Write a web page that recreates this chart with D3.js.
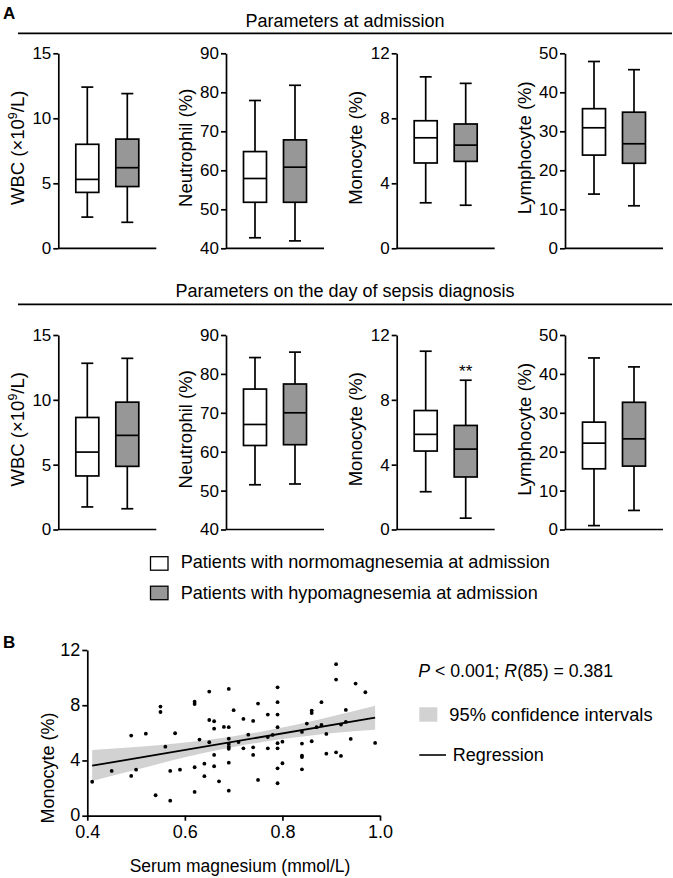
<!DOCTYPE html>
<html><head><meta charset="utf-8">
<script src="https://cdn.jsdelivr.net/npm/d3@7"></script>
<style>
body{margin:0;background:#fff;}
svg{display:block;font-family:"Liberation Sans",Arial,Helvetica,sans-serif;}
</style></head>
<body>
<svg id="c" width="673" height="878"></svg>
<script>
// ---------- Data ----------
const groups = ["Normomagnesemia", "Hypomagnesemia"];
const legendLabels = ["Patients with normomagnesemia at admission", "Patients with hypomagnesemia at admission"];
const panelLabels = ["WBC", "Neutrophil (%)", "Monocyte (%)", "Lymphocyte (%)"];
const panelDomains = [[0, 15], [40, 90], [0, 12], [0, 50]];
const panelTicks = [[0, 5, 10, 15], [40, 50, 60, 70, 80, 90], [0, 4, 8, 12], [0, 10, 20, 30, 40, 50]];
const rowTitles = ["Parameters at admission", "Parameters on the day of sepsis diagnosis"];
// box stats: [min, q1, median, q3, max] for normo, hypo
const admissionStats = [
  [[2.4, 4.3, 5.3, 8.0, 12.4], [2.0, 4.75, 6.2, 8.4, 11.9]],
  [[42.7, 51.8, 57.9, 64.8, 77.9], [41.9, 51.8, 60.8, 67.8, 81.8]],
  [[2.8, 5.25, 6.8, 7.85, 10.55], [2.65, 5.35, 6.35, 7.65, 10.15]],
  [[13.9, 23.9, 30.9, 35.8, 47.9], [10.9, 21.8, 26.8, 34.9, 45.8]]
];
const sepsisStats = [
  [[1.74, 4.13, 5.97, 8.64, 12.82], [1.6, 4.87, 7.26, 9.82, 13.2]],
  [[51.5, 61.6, 67.0, 76.1, 84.2], [51.7, 61.8, 70.0, 77.4, 85.6]],
  [[2.33, 4.84, 5.87, 7.34, 11.0], [0.7, 3.24, 4.96, 6.42, 9.21]],
  [[1.0, 15.6, 22.2, 27.6, 44.1], [4.9, 16.3, 23.3, 32.7, 41.8]]
];
const sepsisSignif = [null, null, [null, "**"], null];

// Panel B scatter
const magnesium = [0.41,0.45,0.49,0.49,0.50,0.52,0.55,0.55,0.54,0.56,0.57,0.57,0.58,0.59,0.62,0.62,0.62,0.62,0.63,0.64,0.64,0.65,0.65,0.65,0.66,0.66,0.66,0.66,0.67,0.68,0.69,0.69,0.69,0.69,0.69,0.69,0.69,0.69,0.70,0.71,0.72,0.72,0.73,0.74,0.74,0.74,0.75,0.75,0.77,0.77,0.77,0.78,0.79,0.79,0.79,0.79,0.79,0.79,0.79,0.79,0.80,0.80,0.84,0.84,0.84,0.84,0.84,0.85,0.86,0.86,0.86,0.87,0.88,0.88,0.89,0.89,0.91,0.91,0.91,0.92,0.92,0.93,0.93,0.94,0.95,0.97,0.99];
const monocyte = [2.46,3.24,5.80,2.88,3.33,5.94,7.90,7.51,1.48,5.00,3.24,1.09,5.97,3.33,8.26,8.09,3.51,1.72,5.51,3.77,2.86,8.99,6.93,5.32,6.84,6.30,4.40,3.58,2.49,6.43,9.18,6.41,5.58,5.20,4.99,4.85,3.84,1.81,7.64,5.33,7.01,4.88,5.87,6.86,4.95,4.40,8.12,2.59,7.32,5.70,4.88,5.85,9.30,8.22,7.32,6.41,5.25,4.88,3.43,2.35,5.36,3.80,6.07,5.22,4.35,4.25,3.36,6.67,7.61,7.43,5.39,6.41,8.22,6.57,5.92,4.49,10.97,9.86,4.59,4.33,6.60,7.66,6.80,5.56,9.57,8.94,5.27];
const regX = [0.41, 0.99];
const regY = [3.62, 7.10];
const ciX = [0.41, 0.5, 0.6, 0.7, 0.8, 0.9, 0.99];
const ciUpper = [4.76, 4.98, 5.30, 5.76, 6.38, 7.18, 7.97];
const ciLower = [2.52, 3.32, 4.24, 4.98, 5.55, 5.98, 6.22];
const scatterXTicks = [0.4, 0.6, 0.8, 1.0];
const scatterYTicks = [0, 4, 8, 12];
const statText = "P < 0.001; R(85) = 0.381";

// ---------- Drawing ----------
const svg = d3.select("#c");
const SW = 1.7;
const FS = 18;
const GRAY = "#979797";

svg.append("text").attr("x", 3).attr("y", 18.5).attr("font-size", 17).attr("font-weight", "bold").text("A");
svg.append("text").attr("x", 3).attr("y", 647.5).attr("font-size", 17).attr("font-weight", "bold").text("B");

const axisX = [58.3, 226, 396.7, 565];
const axisW = 98;
const rows = [
  {title: rowTitles[0], titleY: 26.5, lineY: 33.3, y0: 248.3, y1: 53.3, stats: admissionStats, sig: [null,null,null,null]},
  {title: rowTitles[1], titleY: 296.7, lineY: 304.3, y0: 529.5, y1: 335, stats: sepsisStats, sig: sepsisSignif}
];

rows.forEach(row => {
  svg.append("text").attr("x", 345).attr("y", row.titleY).attr("text-anchor", "middle")
    .attr("font-size", FS).text(row.title);
  svg.append("line").attr("x1", 18).attr("x2", 672).attr("y1", row.lineY).attr("y2", row.lineY)
    .attr("stroke", "#000").attr("stroke-width", SW);

  panelLabels.forEach((lab, i) => {
    const g = svg.append("g").attr("transform", `translate(${axisX[i]},0)`);
    const y = d3.scaleLinear().domain(panelDomains[i]).range([row.y0, row.y1]);
    const x = d3.scalePoint().domain(groups).range([29, 69]);
    const ax = g.append("g").call(d3.axisLeft(y).tickValues(panelTicks[i]).tickSize(5).tickSizeOuter(0).tickPadding(2));
    ax.selectAll("path,line").attr("stroke", "#000").attr("stroke-width", SW);
    ax.selectAll("text").attr("font-size", 17).attr("font-family", "Liberation Sans, Arial, sans-serif").attr("fill", "#000");
    g.append("line").attr("x1", 0).attr("x2", axisW).attr("y1", row.y0).attr("y2", row.y0)
      .attr("stroke", "#000").attr("stroke-width", SW);

    // y label
    const cy = (row.y0 + row.y1) / 2 - 3;
    const t = g.append("text").attr("transform", `translate(-34.5,${cy}) rotate(-90)`)
      .attr("text-anchor", "middle").attr("font-size", 18.5);
    if (i === 0) {
      t.append("tspan").text("WBC (×10");
      t.append("tspan").attr("font-size", 12.5).attr("dy", -7).text("9");
      t.append("tspan").attr("dy", 7).text("/L)");
    } else {
      t.text(lab);
    }

    const bw = 23, cap = 12;
    row.stats[i].forEach((s, j) => {
      const cx = x(groups[j]);
      const bg = g.append("g");
      bg.append("line").attr("x1", cx).attr("x2", cx).attr("y1", y(s[0])).attr("y2", y(s[4]))
        .attr("stroke", "#000").attr("stroke-width", SW);
      [s[0], s[4]].forEach(v => bg.append("line").attr("x1", cx - cap/2).attr("x2", cx + cap/2)
        .attr("y1", y(v)).attr("y2", y(v)).attr("stroke", "#000").attr("stroke-width", SW));
      bg.append("rect").attr("x", cx - bw/2).attr("width", bw).attr("y", y(s[3])).attr("height", y(s[1]) - y(s[3]))
        .attr("fill", j === 0 ? "#fff" : GRAY).attr("stroke", "#000").attr("stroke-width", SW);
      bg.append("line").attr("x1", cx - bw/2).attr("x2", cx + bw/2).attr("y1", y(s[2])).attr("y2", y(s[2]))
        .attr("stroke", "#000").attr("stroke-width", SW);
      const sg = row.sig[i];
      if (sg && sg[j]) {
        g.append("text").attr("x", cx).attr("y", y(s[4]) - 3).attr("text-anchor", "middle")
          .attr("font-size", 17).text(sg[j]);
      }
    });
  });
});

// Legend A
legendLabels.forEach((l, j) => {
  const yy = [556.7, 586.2][j];
  svg.append("rect").attr("x", 150.5).attr("y", yy).attr("width", 17.5).attr("height", 13.5)
    .attr("fill", j === 0 ? "#fff" : GRAY).attr("stroke", "#000").attr("stroke-width", 1.3);
  svg.append("text").attr("x", 180.7).attr("y", [568.3, 599.3][j]).attr("font-size", 18.1).text(l);
});

// Panel B
const sx = d3.scaleLinear().domain([0.4, 1.0]).range([87.3, 380]);
const sy = d3.scaleLinear().domain([0, 12]).range([815.7, 650]);
const B = svg.append("g");
const area = d3.area().x((d, i) => sx(ciX[i])).y0((d, i) => sy(ciLower[i])).y1((d, i) => sy(ciUpper[i])).curve(d3.curveMonotoneX);
B.append("path").datum(ciX).attr("d", area).attr("fill", "#d2d2d2");
B.append("line").attr("x1", sx(regX[0])).attr("x2", sx(regX[1])).attr("y1", sy(regY[0])).attr("y2", sy(regY[1]))
  .attr("stroke", "#000").attr("stroke-width", 1.8);
B.selectAll("circle").data(magnesium).join("circle")
  .attr("cx", d => sx(d)).attr("cy", (d, i) => sy(monocyte[i])).attr("r", 1.9).attr("fill", "#000");

const bx = B.append("g").attr("transform", `translate(0,${sy(0)})`)
  .call(d3.axisBottom(sx).tickValues(scatterXTicks).tickFormat(d3.format(".1f")).tickSize(5).tickSizeOuter(0).tickPadding(5));
const by = B.append("g").attr("transform", `translate(${sx(0.4)},0)`)
  .call(d3.axisLeft(sy).tickValues(scatterYTicks).tickSize(5).tickSizeOuter(0).tickPadding(2));
[bx, by].forEach(a => {
  a.selectAll("path,line").attr("stroke", "#000").attr("stroke-width", SW);
  a.selectAll("text").attr("font-size", 18).attr("font-family", "Liberation Sans, Arial, sans-serif").attr("fill", "#000");
});
by.selectAll(".tick text").attr("dy", "0.28em");
B.append("text").attr("transform", "translate(54,768) rotate(-90)").attr("text-anchor", "middle")
  .attr("font-size", 18).text("Monocyte (%)");
B.append("text").attr("x", 240).attr("y", 872).attr("text-anchor", "middle").attr("font-size", 17.5)
  .text("Serum magnesium (mmol/L)");

// Legend B
const st = B.append("text").attr("x", 418.3).attr("y", 676.7).attr("font-size", 17.7);
const parts = statText.match(/^(P)(.*; )(R)(.*)$/);
st.append("tspan").attr("font-style", "italic").text(parts[1]);
st.append("tspan").text(parts[2]);
st.append("tspan").attr("font-style", "italic").text(parts[3]);
st.append("tspan").text(parts[4]);
B.append("rect").attr("x", 419.3).attr("y", 707.3).attr("width", 18).attr("height", 14.4).attr("fill", "#d2d2d2");
B.append("text").attr("x", 449.3).attr("y", 720.7).attr("font-size", 18.3).text("95% confidence intervals");
B.append("line").attr("x1", 419.3).attr("x2", 446).attr("y1", 755).attr("y2", 755).attr("stroke", "#000").attr("stroke-width", 1.6);
B.append("text").attr("x", 452.7).attr("y", 760.7).attr("font-size", 18).text("Regression");
</script>
</body></html>
